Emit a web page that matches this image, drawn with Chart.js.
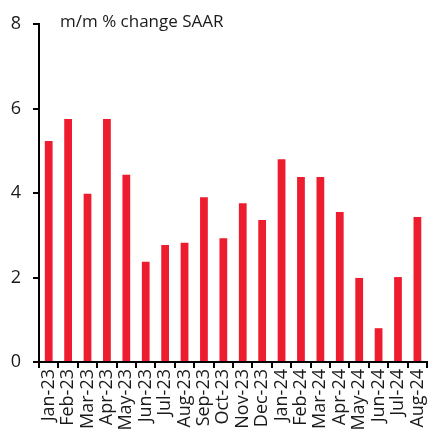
<!DOCTYPE html>
<html>
<head>
<meta charset="utf-8">
<script src="https://cdn.jsdelivr.net/npm/chart.js@4"></script>
<style>
  html, body { margin: 0; padding: 0; background: #fff; }
  #wrap { width: 440px; height: 436px; position: relative; }
</style>
</head>
<body>
<div id="wrap"><canvas id="myChart"></canvas></div>
<script>
// data
const months = ["Jan-23","Feb-23","Mar-23","Apr-23","May-23","Jun-23","Jul-23","Aug-23","Sep-23","Oct-23",
                "Nov-23","Dec-23","Jan-24","Feb-24","Mar-24","Apr-24","May-24","Jun-24","Jul-24","Aug-24"];
const changeSaar = [5.23, 5.75, 3.98, 5.75, 4.43, 2.37, 2.77, 2.82, 3.9, 2.93,
                    3.76, 3.36, 4.8, 4.38, 4.38, 3.55, 1.99, 0.8, 2.01, 3.43];
const yTicks = [0, 2, 4, 6, 8];
const unitLabel = "m/m % change SAAR";

const FONT = "'Open Sans', 'Noto Sans', sans-serif";

// label in the top left of the plot
const unitText = {
    id: 'unitText',
    afterDraw(chart) {
        const c = chart.ctx;
        const area = chart.chartArea;
        c.save();
        c.font = "17px " + FONT;
        c.fillStyle = "#1a1a1a";
        c.textBaseline = "middle";
        c.fillText(unitLabel, area.left + 21, area.top - 2);
        c.restore();
    }
};

const ctx = document.getElementById('myChart').getContext('2d');
const myChart = new Chart(ctx, {
    type: 'bar',
    data: {
        labels: months,
        datasets: [{
            data: changeSaar,
            backgroundColor: '#ED1C2E',
            barPercentage: 0.4,
            categoryPercentage: 1.0
        }]
    },
    options: {
        responsive: true,
        maintainAspectRatio: false,
        animation: false,
        layout: { padding: { top: 24, right: 0, left: 0, bottom: 0 } },
        plugins: { legend: { display: false }, tooltip: { enabled: false } },
        scales: {
            x: {
                offset: true,
                grid: { display: true, offset: true, drawOnChartArea: false, drawTicks: true, tickLength: 6, color: '#000', lineWidth: 2 },
                border: { display: true, color: '#000', width: 2 },
                ticks: { color: '#1a1a1a', font: { family: FONT, size: 18 }, minRotation: 90, maxRotation: 90, padding: 1, autoSkip: false },
                afterFit(scale) { scale.height = 74; }
            },
            y: {
                min: 0, max: 8,
                afterBuildTicks(scale) { scale.ticks = yTicks.map(v => ({ value: v })); },
                grid: { display: true, drawOnChartArea: false, drawTicks: true, tickLength: 6, color: '#000', lineWidth: 2 },
                border: { display: true, color: '#000', width: 2 },
                ticks: { color: '#1a1a1a', font: { family: FONT, size: 18 }, padding: 12 },
                afterFit(scale) { scale.width = 39; }
            }
        }
    },
    plugins: [unitText]
});
</script>
</body>
</html>
